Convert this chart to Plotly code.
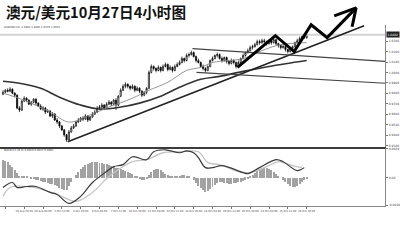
import plotly.graph_objects as go

# ---------------- data ----------------
bar_open = [0.9832, 0.9851, 0.9870, 0.9861, 0.9880, 0.9842, 0.9823, 0.9699, 0.9680, 0.9766,
            0.9794, 0.9775, 0.9737, 0.9756, 0.9785, 0.9747, 0.9718, 0.9690, 0.9699, 0.9661,
            0.9671, 0.9623, 0.9642, 0.9585, 0.9566, 0.9528, 0.9490, 0.9443, 0.9395, 0.9471,
            0.9509, 0.9528, 0.9566, 0.9585, 0.9604, 0.9595, 0.9623, 0.9585, 0.9614, 0.9642,
            0.9661, 0.9699, 0.9709, 0.9728, 0.9699, 0.9737, 0.9756, 0.9737, 0.9775, 0.9728,
            0.9813, 0.9870, 0.9908, 0.9927, 0.9908, 0.9889, 0.9908, 0.9870, 0.9889, 0.9861,
            0.9823, 0.9851, 0.9889, 1.0041, 1.0098, 1.0079, 1.0060, 1.0089, 1.0060, 1.0098,
            1.0117, 1.0070, 1.0089, 1.0060, 1.0098, 1.0117, 1.0136, 1.0174, 1.0155, 1.0203,
            1.0212, 1.0231, 1.0193, 1.0155, 1.0136, 1.0098, 1.0079, 1.0060, 1.0098, 1.0155,
            1.0174, 1.0203, 1.0212, 1.0174, 1.0155, 1.0184, 1.0146, 1.0127, 1.0155, 1.0136,
            1.0098, 1.0136, 1.0174, 1.0203, 1.0231, 1.0250, 1.0279, 1.0288, 1.0307, 1.0336,
            1.0326, 1.0345, 1.0336, 1.0317, 1.0345, 1.0326, 1.0355, 1.0317, 1.0298, 1.0279,
            1.0288, 1.0260, 1.0241, 1.0269, 1.0288, 1.0326, 1.0345, 1.0364, 1.0383, 1.0374]
bar_high = [0.9870, 0.9880, 0.9889, 0.9899, 0.9889, 0.9851, 0.9832, 0.9718, 0.9775, 0.9813,
            0.9804, 0.9785, 0.9766, 0.9794, 0.9794, 0.9756, 0.9737, 0.9718, 0.9709, 0.9690,
            0.9680, 0.9661, 0.9652, 0.9604, 0.9576, 0.9538, 0.9500, 0.9452, 0.9490, 0.9528,
            0.9547, 0.9576, 0.9604, 0.9614, 0.9623, 0.9642, 0.9633, 0.9623, 0.9661, 0.9680,
            0.9718, 0.9728, 0.9747, 0.9737, 0.9756, 0.9775, 0.9766, 0.9785, 0.9794, 0.9823,
            0.9889, 0.9927, 0.9946, 0.9937, 0.9918, 0.9927, 0.9918, 0.9908, 0.9899, 0.9870,
            0.9861, 0.9899, 1.0060, 1.0117, 1.0108, 1.0089, 1.0108, 1.0098, 1.0117, 1.0136,
            1.0127, 1.0108, 1.0098, 1.0117, 1.0136, 1.0155, 1.0193, 1.0184, 1.0222, 1.0231,
            1.0250, 1.0241, 1.0203, 1.0174, 1.0146, 1.0117, 1.0089, 1.0108, 1.0165, 1.0193,
            1.0212, 1.0231, 1.0222, 1.0193, 1.0193, 1.0193, 1.0155, 1.0174, 1.0165, 1.0146,
            1.0155, 1.0184, 1.0222, 1.0241, 1.0269, 1.0298, 1.0307, 1.0326, 1.0355, 1.0355,
            1.0364, 1.0364, 1.0345, 1.0355, 1.0364, 1.0374, 1.0364, 1.0326, 1.0307, 1.0307,
            1.0298, 1.0269, 1.0279, 1.0298, 1.0336, 1.0364, 1.0383, 1.0393, 1.0402, 1.0412]
bar_low = [0.9823, 0.9842, 0.9851, 0.9851, 0.9832, 0.9804, 0.9690, 0.9661, 0.9671, 0.9756,
           0.9756, 0.9728, 0.9718, 0.9747, 0.9728, 0.9709, 0.9680, 0.9671, 0.9642, 0.9652,
           0.9614, 0.9604, 0.9576, 0.9547, 0.9509, 0.9481, 0.9424, 0.9376, 0.9386, 0.9462,
           0.9500, 0.9519, 0.9557, 0.9566, 0.9576, 0.9585, 0.9566, 0.9576, 0.9604, 0.9633,
           0.9652, 0.9680, 0.9699, 0.9680, 0.9690, 0.9728, 0.9718, 0.9728, 0.9680, 0.9718,
           0.9804, 0.9861, 0.9889, 0.9889, 0.9870, 0.9880, 0.9851, 0.9861, 0.9842, 0.9804,
           0.9813, 0.9832, 0.9880, 1.0032, 1.0060, 1.0041, 1.0051, 1.0041, 1.0051, 1.0089,
           1.0051, 1.0060, 1.0041, 1.0051, 1.0089, 1.0108, 1.0127, 1.0136, 1.0146, 1.0184,
           1.0203, 1.0184, 1.0136, 1.0127, 1.0089, 1.0060, 1.0041, 1.0051, 1.0089, 1.0146,
           1.0165, 1.0184, 1.0165, 1.0136, 1.0146, 1.0127, 1.0108, 1.0117, 1.0117, 1.0079,
           1.0089, 1.0127, 1.0165, 1.0193, 1.0222, 1.0241, 1.0260, 1.0279, 1.0298, 1.0307,
           1.0317, 1.0317, 1.0298, 1.0307, 1.0307, 1.0317, 1.0298, 1.0279, 1.0260, 1.0269,
           1.0241, 1.0222, 1.0231, 1.0260, 1.0279, 1.0317, 1.0336, 1.0355, 1.0364, 1.0364]
bar_close = [0.9851, 0.9870, 0.9861, 0.9880, 0.9842, 0.9823, 0.9699, 0.9680, 0.9766, 0.9794,
             0.9775, 0.9737, 0.9756, 0.9785, 0.9747, 0.9718, 0.9690, 0.9699, 0.9661, 0.9671,
             0.9623, 0.9642, 0.9585, 0.9566, 0.9528, 0.9490, 0.9443, 0.9395, 0.9471, 0.9509,
             0.9528, 0.9566, 0.9585, 0.9604, 0.9595, 0.9623, 0.9585, 0.9614, 0.9642, 0.9661,
             0.9699, 0.9709, 0.9728, 0.9699, 0.9737, 0.9756, 0.9737, 0.9775, 0.9728, 0.9813,
             0.9870, 0.9908, 0.9927, 0.9908, 0.9889, 0.9908, 0.9870, 0.9889, 0.9861, 0.9823,
             0.9851, 0.9889, 1.0041, 1.0098, 1.0079, 1.0060, 1.0089, 1.0060, 1.0098, 1.0117,
             1.0070, 1.0089, 1.0060, 1.0098, 1.0117, 1.0136, 1.0174, 1.0155, 1.0203, 1.0212,
             1.0231, 1.0193, 1.0155, 1.0136, 1.0098, 1.0079, 1.0060, 1.0098, 1.0155, 1.0174,
             1.0203, 1.0212, 1.0174, 1.0155, 1.0184, 1.0146, 1.0127, 1.0155, 1.0136, 1.0098,
             1.0136, 1.0174, 1.0203, 1.0231, 1.0250, 1.0279, 1.0288, 1.0307, 1.0336, 1.0326,
             1.0345, 1.0336, 1.0317, 1.0345, 1.0326, 1.0355, 1.0317, 1.0298, 1.0279, 1.0288,
             1.0260, 1.0241, 1.0269, 1.0288, 1.0326, 1.0345, 1.0364, 1.0383, 1.0374, 1.0402]
bars = list(range(len(bar_close)))

# moving averages (bar index, price)
slow_ma_bar = [0, 7, 16, 24, 33, 41, 50, 58, 67, 75, 84, 92, 102, 113, 129]
slow_ma_val = [0.9956, 0.9937, 0.9889, 0.9804, 0.9728, 0.9690, 0.9709, 0.9747, 0.9813,
               0.9899, 0.9975, 1.0003, 1.0051, 1.0098, 1.0155]
fast_ma_bar = [0, 9, 20, 28, 37, 45, 55, 62, 70, 78, 84, 89, 96, 102, 110, 118, 129]
fast_ma_val = [0.9842, 0.9775, 0.9661, 0.9566, 0.9633, 0.9709, 0.9794, 0.9870, 0.9946,
               1.0060, 1.0089, 1.0136, 1.0155, 1.0174, 1.0250, 1.0307, 1.0326]

# MACD histogram per bar
macd_hist = [0.0018, 0.0017, 0.0016, 0.0013, 0.0011, 0.0008, 0.0005, 0.0002, 0.0001, 0.0001,
             0.0001, 0.0000, -0.0001, -0.0001, -0.0002, -0.0002, -0.0003, -0.0004, -0.0004, -0.0005,
             -0.0006, -0.0006, -0.0007, -0.0008, -0.0010, -0.0011, -0.0012, -0.0012, -0.0008, -0.0004,
             0.0000, 0.0003, 0.0006, 0.0009, 0.0011, 0.0013, 0.0014, 0.0015, 0.0016, 0.0016,
             0.0016, 0.0015, 0.0015, 0.0014, 0.0014, 0.0013, 0.0012, 0.0011, 0.0010, 0.0010,
             0.0009, 0.0008, 0.0007, 0.0006, 0.0005, 0.0004, 0.0002, 0.0001, -0.0001, -0.0002,
             -0.0002, -0.0001, 0.0003, 0.0006, 0.0008, 0.0009, 0.0009, 0.0008, 0.0006, 0.0004,
             0.0003, 0.0002, 0.0002, 0.0001, 0.0001, 0.0002, 0.0003, 0.0003, 0.0002, 0.0001,
             0.0000, -0.0002, -0.0005, -0.0008, -0.0010, -0.0012, -0.0014, -0.0013, -0.0011, -0.0009,
             -0.0007, -0.0005, -0.0004, -0.0004, -0.0005, -0.0005, -0.0006, -0.0006, -0.0005, -0.0005,
             -0.0004, -0.0004, -0.0003, -0.0002, -0.0001, 0.0001, 0.0003, 0.0005, 0.0007, 0.0008,
             0.0009, 0.0010, 0.0010, 0.0009, 0.0008, 0.0006, 0.0004, 0.0002, 0.0000, -0.0002,
             -0.0004, -0.0006, -0.0008, -0.0009, -0.0009, -0.0008, -0.0006, -0.0004, -0.0002, -0.0001]
macd_bar = [0, 4, 6, 10, 14, 20, 23, 28, 33, 38, 44, 47, 51, 55, 61, 64, 69, 75, 78, 81,
            83, 86, 89, 93, 102, 104, 109, 116, 119, 125, 128]
macd_val = [-0.0010, -0.0005, -0.0010, -0.0009, -0.0009, -0.0015, -0.0017, -0.0026, -0.0019,
            -0.0005, 0.0006, 0.0011, 0.0013, 0.0021, 0.0018, 0.0026, 0.0028, 0.0025, 0.0027,
            0.0025, 0.0020, 0.0010, 0.0010, 0.0012, 0.0005, 0.0004, 0.0010, 0.0018, 0.0016,
            0.0007, 0.0010]
signal_bar = [0, 3, 13, 23, 31, 38, 45, 55, 61, 68, 75, 83, 87, 92, 100, 105, 112, 117, 123, 127]
signal_val = [-0.0019, -0.0010, -0.0010, -0.0017, -0.0024, -0.0015, 0.0001, 0.0016, 0.0018,
              0.0025, 0.0026, 0.0026, 0.0015, 0.0013, 0.0006, 0.0005, 0.0011, 0.0016, 0.0012,
              0.0010]

# drawn analysis lines (bar index, price)
trend_up = ([27.5, 153.4], [0.9376, 1.0488])
trend_upper = ([80.5, 162.3], [1.0269, 1.0146])
trend_lower = ([82.2, 162.3], [1.0041, 0.9937])
arrow_path = ([99.6, 115.7, 123.7, 130.9, 137.7, 150.0],
              [1.0089, 1.0393, 1.0241, 1.0497, 1.0374, 1.0659])
arrow_head = ([140.7, 150.0, 148.3], [1.0583, 1.0659, 1.0478])

last_price = 1.0402
price_ticks = [1.0340, 1.0240, 1.0140, 1.0040, 0.9940, 0.9840, 0.9740, 0.9640, 0.9540, 0.9440, 0.9340]
macd_ticks = [0.0029, 0.0, -0.0028]
macd_ticktext = ["0.0029", "0.00", "-0.0028"]
time_tick_bars = [1, 9, 17, 25, 33, 41, 49, 57, 65, 73, 81, 89, 97, 105, 113, 121, 129]
time_tick_text = ["27 Sep 2011", "28 Sep 20:00", "30 Sep 04:00", "3 Oct 12:00", "4 Oct 20:00",
                  "6 Oct 04:00", "7 Oct 12:00", "10 Oct 20:00", "12 Oct 04:00", "13 Oct 12:00",
                  "14 Oct 20:00", "18 Oct 04:00", "19 Oct 12:00", "20 Oct 20:00", "24 Oct 04:00",
                  "25 Oct 12:00", "26 Oct 20:00"]

# ---------------- layout geometry ----------------
W, H = 400, 246
XR = [-1.27, 162.29]
PX_PER_PRICE = 1 / 0.00095
P_TOP_PX0 = 1.0725  # price at pixel row 0


def py(px):
    return P_TOP_PX0 - px / PX_PER_PRICE


main_top, main_bot = 24, 147
macd_top, macd_bot = 148, 207
xdom = [0, 386 / W]

fig = go.Figure()

fig.add_trace(go.Candlestick(
    x=bars, open=bar_open, high=bar_high, low=bar_low, close=bar_close,
    increasing=dict(line=dict(color="#000000", width=0.7), fillcolor="#ffffff"),
    decreasing=dict(line=dict(color="#000000", width=0.7), fillcolor="#000000"),
    whiskerwidth=0, xaxis="x", yaxis="y", showlegend=False))

fig.add_trace(go.Scatter(x=[XR[0], XR[1]], y=[last_price, last_price], mode="lines",
                         line=dict(color="#d4d4d4", width=2), xaxis="x", yaxis="y",
                         showlegend=False))
fig.add_trace(go.Scatter(x=slow_ma_bar, y=slow_ma_val, mode="lines",
                         line=dict(color="#333333", width=1.6, shape="spline"),
                         xaxis="x", yaxis="y", showlegend=False))
fig.add_trace(go.Scatter(x=fast_ma_bar, y=fast_ma_val, mode="lines",
                         line=dict(color="#8a8a8a", width=0.9, shape="spline"),
                         xaxis="x", yaxis="y", showlegend=False))
for ln, w, c in [(trend_up, 1.6, "#222222"), (trend_upper, 1.2, "#444444"),
                 (trend_lower, 1.2, "#444444")]:
    fig.add_trace(go.Scatter(x=ln[0], y=ln[1], mode="lines", line=dict(color=c, width=w),
                             xaxis="x", yaxis="y", showlegend=False))

# arrow on a full-height axis so it can leave the price panel
for ln in [arrow_path, arrow_head]:
    fig.add_trace(go.Scatter(x=ln[0], y=ln[1], mode="lines",
                             line=dict(color="#000000", width=3),
                             xaxis="x", yaxis="y3", showlegend=False))

# MACD panel
fig.add_trace(go.Bar(x=bars, y=macd_hist, marker=dict(color="#a2a2a2", line=dict(width=0)),
                     width=0.42, xaxis="x2", yaxis="y2", showlegend=False))
fig.add_trace(go.Scatter(x=signal_bar, y=signal_val, mode="lines",
                         line=dict(color="#c4c4c4", width=1.3, shape="spline"),
                         xaxis="x2", yaxis="y2", showlegend=False))
fig.add_trace(go.Scatter(x=macd_bar, y=macd_val, mode="lines",
                         line=dict(color="#3a3a3a", width=1.2, shape="spline"),
                         xaxis="x2", yaxis="y2", showlegend=False))

fig.update_layout(
    width=W, height=H, margin=dict(l=0, r=0, t=0, b=0),
    paper_bgcolor="white", plot_bgcolor="rgba(0,0,0,0)", bargap=0,
    font=dict(family="DejaVu Sans", color="#333333"),
    xaxis=dict(domain=xdom, range=XR, anchor="y", showticklabels=False, ticks="",
               showgrid=False, zeroline=False, showline=True, linecolor="#3c3c3c",
               linewidth=2, rangeslider=dict(visible=False)),
    yaxis=dict(domain=[1 - main_bot / H, 1 - main_top / H], range=[py(main_bot), py(main_top)],
               side="right", anchor="x", tickvals=price_ticks,
               ticktext=[f"{v:.4f}" for v in price_ticks], ticks="outside", ticklen=2,
               tickcolor="#777", tickfont=dict(size=3, color="#444"), showgrid=False,
               zeroline=False, showline=True, linecolor="#888", linewidth=1),
    xaxis2=dict(domain=xdom, range=XR, anchor="y2", matches="x", tickvals=time_tick_bars,
                ticktext=time_tick_text, ticks="outside", ticklen=2, tickcolor="#777",
                tickfont=dict(size=2.6, color="#444"), tickangle=0, showgrid=False,
                zeroline=False, showline=True, linecolor="#888", linewidth=1),
    yaxis2=dict(domain=[1 - macd_bot / H, 1 - macd_top / H],
                range=[(178 - macd_bot) * 0.0001, (178 - macd_top) * 0.0001],
                side="right", anchor="x2", tickvals=macd_ticks, ticktext=macd_ticktext,
                ticks="outside", ticklen=2, tickcolor="#777",
                tickfont=dict(size=3, color="#444"), showgrid=False, zeroline=False,
                showline=True, linecolor="#888", linewidth=1),
    yaxis3=dict(domain=[0, 1], range=[py(H), py(0)], anchor="x", visible=False,
                showgrid=False, zeroline=False),
)

fig.add_annotation(text="<b>澳元/美元10月27日4小时图</b>", x=4 / W, y=1 - 11 / H,
                   xref="paper", yref="paper", xanchor="left", yanchor="middle",
                   showarrow=False,
                   font=dict(family="Noto Sans CJK SC", size=14.6, color="#111111"))
fig.add_annotation(text="AUDUSD,H4  1.0402 1.0402 1.0379 1.0402", x=2 / W, y=1 - 27 / H,
                   xref="paper", yref="paper", xanchor="left", yanchor="middle",
                   showarrow=False, font=dict(size=2.6, color="#333"))
fig.add_annotation(text="MACD(12,26,9) 0.0029 0.0027 0.0002", x=2 / W, y=1 - 151 / H,
                   xref="paper", yref="paper", xanchor="left", yanchor="middle",
                   showarrow=False, font=dict(size=2.6, color="#333"))
fig.add_annotation(text=f"{last_price:.4f}", x=387 / W, y=last_price, xref="paper", yref="y",
                   xanchor="left", yanchor="middle", showarrow=False, bgcolor="#222",
                   borderpad=0.5, font=dict(size=3, color="white"))

fig.write_html("out.html")
